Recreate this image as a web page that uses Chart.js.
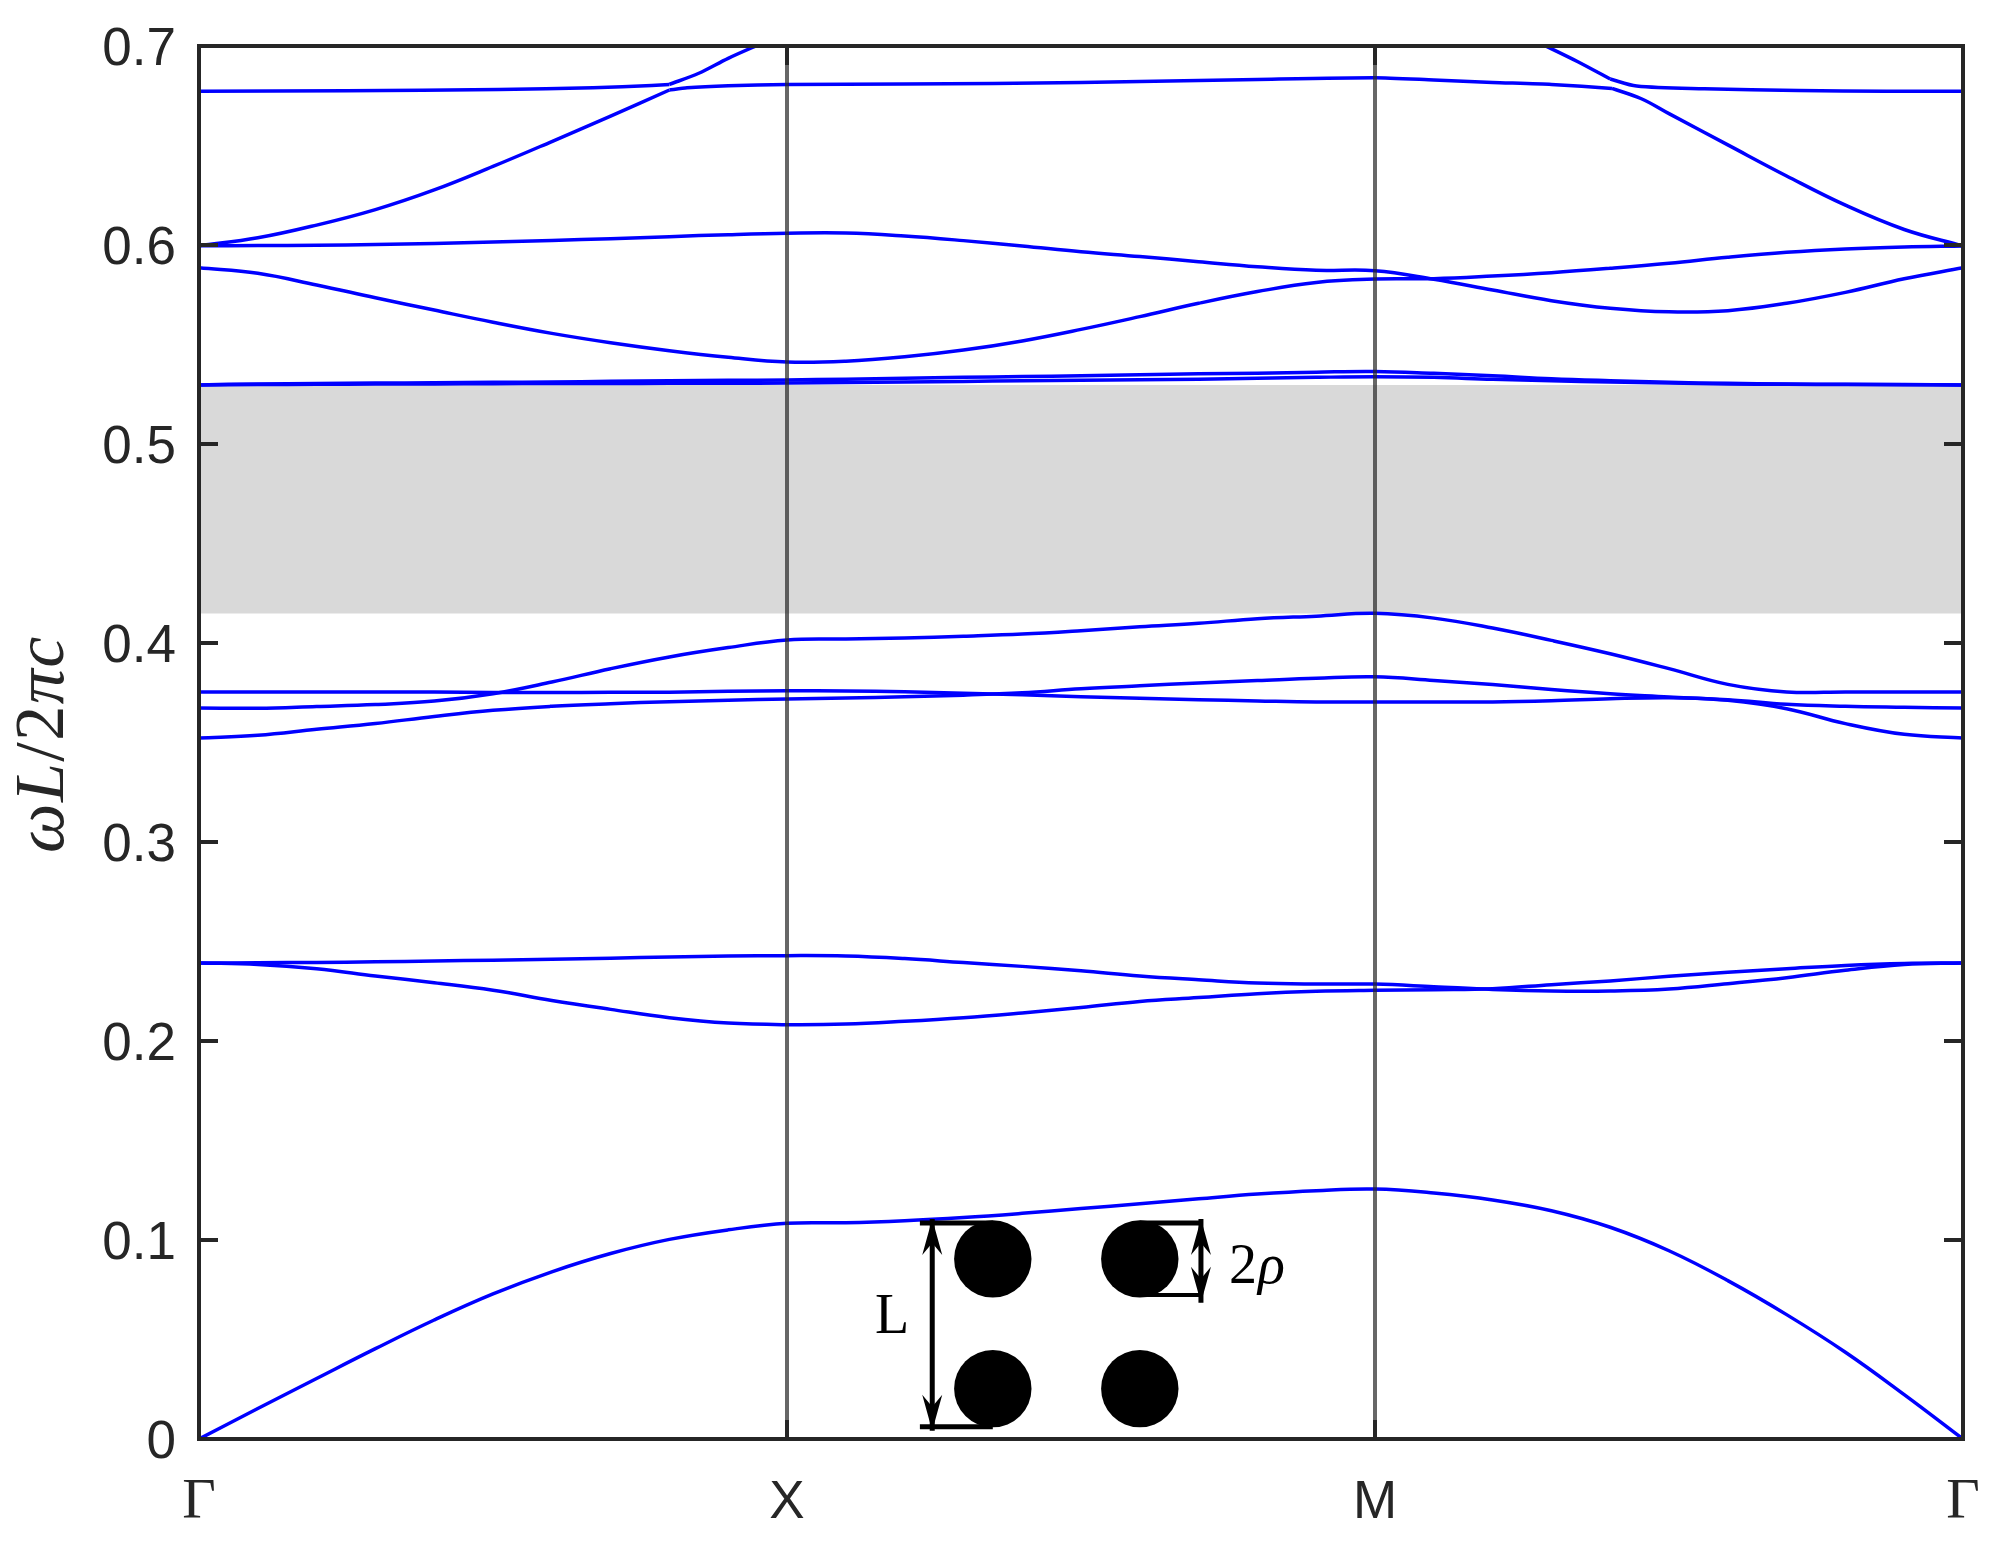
<!DOCTYPE html>
<html lang="en">
<head>
  <meta charset="UTF-8">
  <title>Photonic band structure</title>
  <script src="https://cdn.jsdelivr.net/npm/chart.js"></script>
  <style>
    html, body { margin: 0; padding: 0; background: #fff; }
    canvas { display: block; }
  </style>
</head>
<body>
  <canvas id="bands" width="2004" height="1546"></canvas>

  <script>
    // k path: 0 = Gamma, 1 = X, 2 = M, 3 = Gamma
    const kPath = [0, .1, .2, .3, .4, .5, .6, .7, .8, .9,
                   1, 1.1, 1.2, 1.3, 1.4, 1.5, 1.6, 1.7, 1.8, 1.9,
                   2, 2.1, 2.2, 2.3, 2.4, 2.5, 2.6, 2.7, 2.8, 2.9, 3];
    const xTickLabels = ['Γ', 'X', 'M', 'Γ'];

    const band1 = [0, .0153, .0304, .0454, .0598, .0729, .0840, .0932, .1003, .1051,
                   .1084, .1087, .1097, .1113, .1134, .1158, .1182, .1207, .1231, .1248,
                   .1256, .1236, .1201, .1147, .1064, .0946, .0796, .0625, .0436, .0223, 0];
    const band2 = [.2392, .2385, .2363, .2327, .2293, .2255, .2204, .2159, .2117, .2090,
                   .2082, .2085, .2099, .2117, .2141, .2168, .2199, .2218, .2238, .2250,
                   .2255, .2258, .2263, .2283, .2302, .2325, .2345, .2363, .2380, .2390, .2392];
    const band3 = [.2392, .2393, .2395, .2398, .2402, .2406, .2411, .2416, .2422, .2427,
                   .2429, .2427, .2414, .2394, .2375, .2353, .2327, .2308, .2291, .2286,
                   .2286, .2273, .2259, .2251, .2251, .2261, .2288, .2318, .2355, .2384, .2392];
    const band4 = [.3523, .3536, .3566, .3595, .3631, .3662, .3682, .3695, .3705, .3712,
                   .3719, .3723, .3730, .3738, .3750, .3770, .3785, .3799, .3811, .3823,
                   .3830, .3812, .3791, .3766, .3745, .3729, .3712, .3670, .3595, .3541, .3523];
    const band5 = [.3754, .3754, .3754, .3754, .3754, .3751, .3751, .3752, .3753, .3757,
                   .3760, .3759, .3755, .3748, .3740, .3730, .3722, .3715, .3709, .3704,
                   .3704, .3704, .3704, .3710, .3720, .3725, .3715, .3692, .3682, .3677, .3673];
    const band6 = [.3673, .3672, .3681, .3691, .3708, .3745, .3804, .3871, .3930, .3977,
                   .4015, .4020, .4025, .4034, .4045, .4062, .4082, .4099, .4122, .4135,
                   .4149, .4125, .4075, .4013, .3946, .3871, .3792, .3754, .3754, .3754, .3754];
    const band7 = [.5297, .5299, .5300, .5301, .5302, .5303, .5304, .5304, .5305, .5305,
                   .5306, .5309, .5312, .5314, .5318, .5320, .5323, .5326, .5330, .5335,
                   .5338, .5335, .5325, .5318, .5311, .5307, .5302, .5300, .5299, .5298, .5297];
    const band8 = [.5297, .5302, .5304, .5306, .5308, .5310, .5312, .5315, .5318, .5320,
                   .5322, .5326, .5331, .5335, .5339, .5343, .5348, .5353, .5356, .5361,
                   .5364, .5355, .5343, .5328, .5318, .5310, .5305, .5302, .5300, .5299, .5297];
    const band9 = [.5886, .5858, .5799, .5735, .5673, .5612, .5556, .5509, .5469, .5436,
                   .5412, .5416, .5438, .5472, .5518, .5576, .5640, .5707, .5766, .5812,
                   .5829, .5831, .5844, .5861, .5883, .5908, .5938, .5963, .5980, .5990, .5995];
    const band10 = [.5996, .5997, .5999, .6002, .6008, .6015, .6023, .6032, .6042, .6052,
                    .6059, .6060, .6045, .6022, .5995, .5966, .5942, .5916, .5891, .5873,
                    .5871, .5828, .5774, .5720, .5682, .5664, .5670, .5707, .5762, .5830, .5886];

    // upper bands have sharp corners near k = 0.8 and k = 2.4, so they are split there
    const kRiseLeft = [0, .1, .2, .3, .4, .5, .6, .7, .8];
    const riseLeft = [.5996, .6036, .6100, .6178, .6277, .6395, .6520, .6648, .6779];
    const kUpperMid = [.8, .83, .9, 1, 1.2, 1.5, 1.8, 2, 2.1, 2.2, 2.3, 2.403];
    const upperMid = [.6779, .6790, .6800, .6807, .6809, .6816, .6832, .6841, .6829, .6817, .6807, .6787];
    const kRiseRight = [2.403, 2.453, 2.5, 2.6, 2.7, 2.8, 2.9, 3];
    const riseRight = [.6787, .6735, .6660, .6503, .6347, .6200, .6078, .5995];
    const kFlatLeft = [0, .25, .51, .67, .77, .8];
    const flatLeft = [.6773, .6775, .6782, .6790, .6802, .6807];
    const kExitLeft = [.8, .85, .9, .96];
    const exitLeft = [.6807, .6863, .6938, .7017];
    const kExitRight = [2.28, 2.345, 2.4];
    const exitRight = [.7015, .6921, .6834];
    const kFlatRight = [2.4, 2.445, 2.56, 2.72, 2.87, 3];
    const flatRight = [.6834, .6799, .6785, .6777, .6772, .6773];

    // band gap
    const gapK = [0, 3];
    const gapTop = [.5297, .5297];
    const gapBottom = .4148;

    // inset: rods and dimension marks, in k / frequency units
    const rodK = [1.350, 1.600, 1.350, 1.600];
    const rodW = [.0905, .0905, .0253, .0253];
    const bracketLK = [1.226, 1.350];
    const bracketLTop = [.1085, .1085];
    const bracketLBottom = [.0062, .0062];
    const bracketRhoK = [1.600, 1.705];
    const bracketRhoTop = [.1085, .1085];
    const bracketRhoBottom = [.0724, .0724];
    const arrowLK = [1.247, 1.247];
    const arrowLW = [.1106, .0042];
    const arrowRhoK = [1.704, 1.704];
    const arrowRhoW = [.1106, .0685];

    const band = (k, w) => k.map((x, i) => ({ x, y: w[i] }));

    const gridBands = [band1, band2, band3, band4, band5, band6, band7, band8, band9, band10];
    const splitBands = [
      [kRiseLeft, riseLeft, .4], [kUpperMid, upperMid, .2], [kRiseRight, riseRight, .4],
      [kFlatLeft, flatLeft, .2], [kExitLeft, exitLeft, .3], [kExitRight, exitRight, .3], [kFlatRight, flatRight, .3]
    ];

    const blueLine = (k, w, tension) => ({
      data: band(k, w),
      borderColor: '#0000ff',
      borderWidth: 3.5,
      pointRadius: 0,
      tension: tension,
      order: 2
    });

    const straight = (k, w, color, width, order) => ({
      data: band(k, w),
      borderColor: color,
      borderWidth: width,
      pointRadius: 0,
      order: order
    });

    const darkInk = '#262626';
    const sans = '"Liberation Sans", Arial, sans-serif';
    const serif = '"Liberation Serif", "Times New Roman", serif';

    // MATLAB style box with inward ticks, plus the text the axes don't provide
    const figureParts = {
      id: 'figureParts',
      afterDatasetsDraw(chart) {
        const { ctx, chartArea: a, scales: { x, y } } = chart;
        const tick = 19;
        ctx.save();

        // inset arrow heads
        const head = (k, w, dir) => {
          const px = x.getPixelForValue(k), py = y.getPixelForValue(w);
          ctx.beginPath();
          ctx.moveTo(px, py);
          ctx.lineTo(px - 10, py + dir * 36);
          ctx.lineTo(px, py + dir * 24);
          ctx.lineTo(px + 10, py + dir * 36);
          ctx.closePath();
          ctx.fillStyle = '#000';
          ctx.fill();
        };
        head(arrowLK[0], arrowLW[0], 1);
        head(arrowLK[1], arrowLW[1], -1);
        head(arrowRhoK[0], arrowRhoW[0], 1);
        head(arrowRhoK[1], arrowRhoW[1], -1);

        // inset labels
        ctx.fillStyle = '#000';
        ctx.textBaseline = 'alphabetic';
        ctx.textAlign = 'left';
        ctx.font = '56px ' + serif;
        ctx.fillText('L', 875, 1333);
        ctx.fillText('2', 1229, 1283);
        ctx.font = 'italic 56px ' + serif;
        ctx.fillText('ρ', 1258, 1283);

        // frame and ticks
        ctx.strokeStyle = darkInk;
        ctx.lineWidth = 4;
        ctx.strokeRect(a.left, a.top, a.right - a.left, a.bottom - a.top);
        ctx.beginPath();
        y.ticks.forEach(t => {
          const p = y.getPixelForValue(t.value);
          ctx.moveTo(a.left, p); ctx.lineTo(a.left + tick, p);
          ctx.moveTo(a.right, p); ctx.lineTo(a.right - tick, p);
        });
        x.ticks.forEach(t => {
          const p = x.getPixelForValue(t.value);
          ctx.moveTo(p, a.bottom); ctx.lineTo(p, a.bottom - tick);
          ctx.moveTo(p, a.top); ctx.lineTo(p, a.top + tick);
        });
        ctx.stroke();

        // y axis title, reads bottom to top
        const parts = [
          ['italic 70px ' + serif, 'ω'], ['italic 70px ' + serif, 'L'], ['70px ' + serif, '/'],
          ['70px ' + serif, '2'], ['italic 70px ' + serif, 'π'], ['italic 70px ' + serif, 'c']
        ];
        ctx.translate(63, 853);
        ctx.rotate(-Math.PI / 2);
        ctx.fillStyle = darkInk;
        let pos = 0;
        parts.forEach(([font, s]) => {
          ctx.font = font;
          ctx.fillText(s, pos, 0);
          pos += ctx.measureText(s).width + 1.5;
        });
        ctx.restore();
      }
    };

    new Chart(document.getElementById('bands').getContext('2d'), {
      type: 'line',
      data: {
        datasets: [
          // rods and dimension marks
          { data: band(rodK, rodW), showLine: false, pointRadius: 38.7, pointBackgroundColor: '#000',
            pointBorderWidth: 0, order: 0 },
          straight(bracketLK, bracketLTop, '#000', 5, 0),
          straight(bracketLK, bracketLBottom, '#000', 5, 0),
          straight(bracketRhoK, bracketRhoTop, '#000', 5, 0),
          straight(bracketRhoK, bracketRhoBottom, '#000', 4, 0),
          straight(arrowLK, arrowLW, '#000', 5, 0),
          straight(arrowRhoK, arrowRhoW, '#000', 5, 0),
          // high symmetry lines at X and M, over the bands
          straight([1, 1], [0, .7], 'rgba(38,38,38,.7)', 4, 1),
          straight([2, 2], [0, .7], 'rgba(38,38,38,.7)', 4, 1),
          ...gridBands.map(w => blueLine(kPath, w, .4)),
          ...splitBands.map(([k, w, t]) => blueLine(k, w, t)),
          // band gap
          { data: band(gapK, gapTop), borderWidth: 0, pointRadius: 0, backgroundColor: '#d9d9d9',
            fill: { value: gapBottom }, order: 3 }
        ]
      },
      options: {
        responsive: false,
        animation: false,
        layout: { padding: { left: 0, top: 46, right: 41, bottom: 0 } },
        plugins: { legend: { display: false }, tooltip: { enabled: false } },
        scales: {
          x: {
            type: 'linear',
            min: 0,
            max: 3,
            afterFit: s => { s.height = 107; s.paddingLeft = 0; s.paddingRight = 0; },
            grid: { display: false },
            border: { display: false },
            ticks: {
              stepSize: 1,
              maxRotation: 0,
              autoSkip: false,
              padding: 25,
              color: darkInk,
              font: c => (c.index === 0 || c.index === 3)
                ? { family: serif, size: 58, lineHeight: 1.07 }
                : { family: sans, size: 53 },
              callback: (v, i) => xTickLabels[i]
            }
          },
          y: {
            min: 0,
            max: .7,
            afterFit: s => { s.width = 199; s.paddingTop = 0; s.paddingBottom = 0; },
            grid: { display: false },
            border: { display: false },
            ticks: {
              stepSize: .1,
              padding: 15,
              labelOffset: 4,
              color: darkInk,
              font: { family: sans, size: 53 },
              callback: v => (v === 0 ? '0' : v.toFixed(1))
            }
          }
        }
      },
      plugins: [figureParts]
    });
  </script>
</body>
</html>
